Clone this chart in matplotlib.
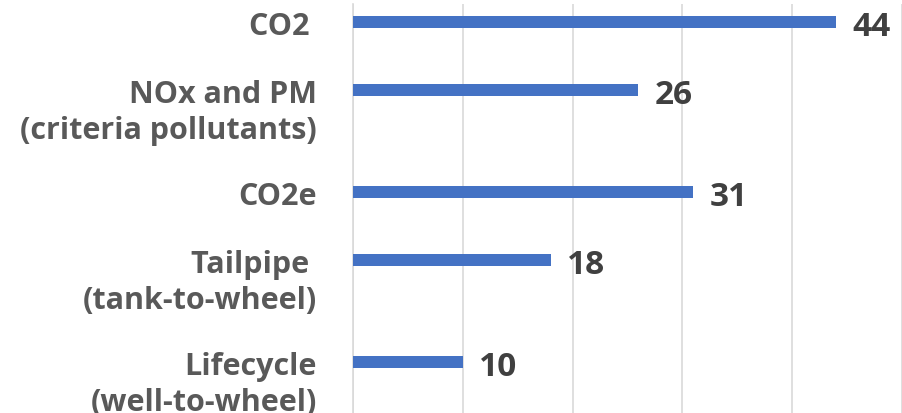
"""Emissions reduction by metric - horizontal bar chart."""

import numpy as np
import matplotlib
matplotlib.use("Agg")
import matplotlib.pyplot as plt
import matplotlib.transforms as mtransforms

# Data
categories = [
    "CO2 ",
    "NOx and PM\n(criteria pollutants)",
    "CO2e",
    "Tailpipe \n(tank-to-wheel)",
    "Lifecycle\n(well-to-wheel)",
]
values = [44, 26, 31, 18, 10]
value_labels = ["44", "26", "31", "18", "10"]

plt.rcParams["font.family"] = ["Open Sans", "DejaVu Sans"]

fig = plt.figure(figsize=(9.03, 4.14), dpi=100)
# axes run off the bottom of the picture, as in the reference crop
ax = fig.add_axes([353 / 903, 0.0, 549 / 903, 409 / 414])

# bars come in pairs: 0.4 apart inside a pair, 1.0 between pairs
idx = np.arange(len(values))
ypos = idx // 2 + 0.4 * (idx % 2)

ax.barh(ypos, values, height=0.072, color="#4472C4", zorder=3)

ax.set_xlim(0, 50)
ax.set_ylim(2.3, -0.106)

ax.set_xticks(np.arange(0, 51, 10))
ax.xaxis.grid(True, color="#D9D9D9", linewidth=1.2, zorder=0)
ax.tick_params(left=False, bottom=False, labelbottom=False, labelleft=False)
for side in ["top", "right", "bottom"]:
    ax.spines[side].set_visible(False)
ax.spines["left"].set_color("#D9D9D9")
ax.spines["left"].set_linewidth(1.2)

# category labels: first line lined up with the bar, second line below
trans = mtransforms.blended_transform_factory(ax.transAxes, ax.transData)
for y, lab in zip(ypos, categories):
    for k, line in enumerate(lab.split("\n")):
        ax.annotate(line, (-36 / 549, y), xycoords=trans,
                    xytext=(0, -26 * k), textcoords="offset points",
                    ha="right", va="center_baseline", fontsize=22,
                    fontweight="bold", color="#595959")

# value labels
for y, v, lab in zip(ypos, values, value_labels):
    ax.annotate(lab, (v, y), xytext=(12, 0), textcoords="offset points",
                ha="left", va="center_baseline", fontsize=24, fontweight="bold",
                color="#404040")

fig.savefig("out.png", dpi=100)
